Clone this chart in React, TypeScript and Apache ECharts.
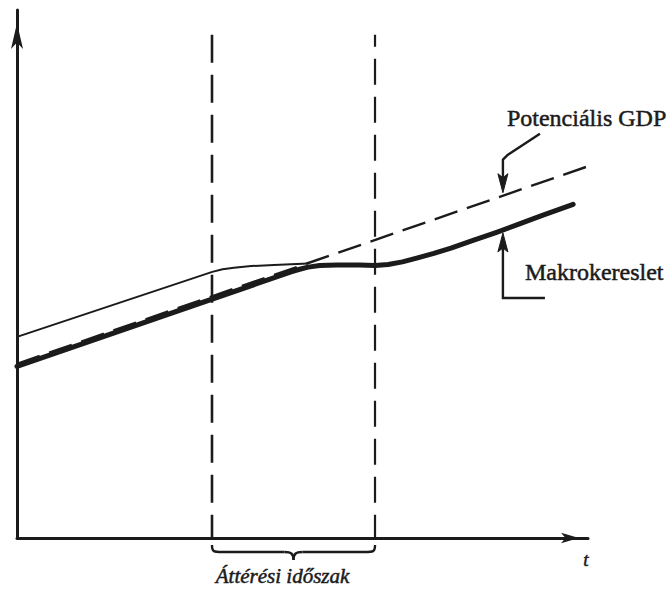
import React, { useEffect, useRef } from "react";
import * as echarts from "echarts";

// Conceptual diagram values (time 0..100, level 0..100)
const potentialGDP: [number, number][] = [
  [0, 33.0],
  [101.6, 71.0],
];
const demandThick: [number, number][] = [
  [0, 32.5], [48, 50.4], [49.5, 50.9], [51, 51.3], [53, 51.6], [56, 51.7],
  [60, 51.7], [62.7, 51.6], [65, 51.8], [67.5, 52.3], [70, 53.0], [73, 53.9],
  [76, 54.9], [80, 56.4], [84, 57.9], [88, 59.5], [92, 61.1], [97.4, 63.2],
];
const demandThin: [number, number][] = [
  [0, 38.1], [34.2, 50.4], [36, 50.9], [38, 51.2], [41, 51.5], [45, 51.7], [51, 52.0],
];
const transitionStart = 34.15;
const transitionEnd = 62.7;
const guideTop = 95.3;
const annotationX = 85.1;

const labelPotential = "Potenciális GDP";
const labelDemand = "Makrokereslet";
const labelPeriod = "Áttérési időszak";
const labelTime = "t";

const INK = "#1b1b1b";
const SERIF = "'Liberation Serif', 'DejaVu Serif', serif";

function interp(data: [number, number][], x: number): number {
  for (let i = 0; i < data.length - 1; i++) {
    const [x0, y0] = data[i];
    const [x1, y1] = data[i + 1];
    if (x >= x0 && x <= x1) return y0 + ((y1 - y0) * (x - x0)) / (x1 - x0);
  }
  return data[data.length - 1][1];
}

export default function App() {
  const ref = useRef<HTMLDivElement>(null);
  useEffect(() => {
    if (!ref.current) return;
    const chart = echarts.init(ref.current, undefined, { renderer: "svg" });
    const hidden = {
      axisTick: { show: false },
      axisLabel: { show: false },
      splitLine: { show: false },
    };
    chart.setOption({
      animation: false,
      backgroundColor: "#ffffff",
      grid: { left: 17, top: 10, right: 83, bottom: 51, containLabel: false },
      xAxis: {
        type: "value",
        min: 0,
        max: 100,
        ...hidden,
        axisLine: {
          show: true,
          symbol: ["none", "arrow"],
          symbolSize: [8, 18],
          symbolOffset: [0, -9],
          lineStyle: { color: INK, width: 3 },
        },
      },
      yAxis: {
        type: "value",
        min: 0,
        max: 100,
        ...hidden,
        axisLine: {
          show: true,
          symbol: ["none", "arrow"],
          symbolSize: [9, 26],
          symbolOffset: [0, -13],
          lineStyle: { color: INK, width: 3 },
        },
      },
      series: [
        {
          type: "line",
          data: [[transitionStart, guideTop], [transitionStart, 0]],
          symbol: "none",
          lineStyle: { color: INK, width: 2.6, type: [28, 12] },
          z: 1,
        },
        {
          type: "line",
          data: [[transitionEnd, guideTop], [transitionEnd, 0]],
          symbol: "none",
          lineStyle: { color: INK, width: 2.2, type: [26, 12], dashOffset: 14 },
          z: 1,
        },
        {
          type: "line",
          data: demandThin,
          symbol: "none",
          lineStyle: { color: INK, width: 2, join: "round" },
          z: 2,
        },
        {
          type: "line",
          data: demandThick,
          symbol: "none",
          lineStyle: { color: INK, width: 5, cap: "round", join: "round" },
          z: 3,
        },
        {
          type: "line",
          data: potentialGDP,
          symbol: "none",
          clip: false,
          lineStyle: { color: INK, width: 2.4, type: [24, 10] },
          z: 4,
        },
      ],
    });

    const px = (x: number, y: number) => chart.convertToPixel({ gridIndex: 0 }, [x, y]) as number[];
    const [pTx, pTyRaw] = px(annotationX, interp(potentialGDP, annotationX));
    const [dTx, dTyRaw] = px(annotationX, interp(demandThick, annotationX));
    const pTy = pTyRaw - 3;
    const dTy = dTyRaw + 3;
    const [xl, axisY] = px(transitionStart, 0);
    const [xr] = px(transitionEnd, 0);
    const [xEnd] = px(100, 0);
    const xm = (xl + xr) / 2;
    const yA = axisY + 7;
    const yB = axisY + 14;
    const yC = axisY + 22;
    const stroke = { stroke: INK, lineWidth: 2.4, fill: "none" };
    const textInk = { fill: INK, stroke: INK, lineWidth: 0.5 };

    chart.setOption({
      graphic: [
        // Potential GDP leader
        {
          type: "polyline",
          shape: { points: [[pTx + 37, pTy - 59], [pTx + 5, pTy - 38], [pTx, pTy - 33], [pTx, pTy - 15]] },
          style: { ...stroke, lineJoin: "round" },
        },
        {
          type: "polygon",
          shape: { points: [[pTx - 5, pTy - 19], [pTx, pTy - 15], [pTx + 5, pTy - 19], [pTx, pTy]] },
          style: { fill: INK, stroke: INK, lineWidth: 1 },
        },
        {
          type: "text",
          x: pTx + 4,
          y: pTy - 75,
          style: { text: labelPotential, ...textInk, font: `24px ${SERIF}`, align: "left", verticalAlign: "middle" },
        },
        // Demand leader
        {
          type: "polyline",
          shape: { points: [[dTx, dTy + 15], [dTx, dTy + 65], [dTx + 42, dTy + 65]] },
          style: { ...stroke, lineJoin: "miter" },
        },
        {
          type: "polygon",
          shape: { points: [[dTx - 5, dTy + 19], [dTx, dTy + 15], [dTx + 5, dTy + 19], [dTx, dTy]] },
          style: { fill: INK, stroke: INK, lineWidth: 1 },
        },
        {
          type: "text",
          x: dTx + 22,
          y: dTy + 39,
          style: { text: labelDemand, ...textInk, font: `24px ${SERIF}`, align: "left", verticalAlign: "middle" },
        },
        // Brace
        {
          type: "bezierCurve",
          shape: { x1: xl, y1: yA, cpx1: xl, cpy1: yB, cpx2: xl + 2, cpy2: yB, x2: xl + 10, y2: yB },
          style: stroke,
        },
        { type: "line", shape: { x1: xl + 10, y1: yB, x2: xm - 9, y2: yB }, style: stroke },
        {
          type: "bezierCurve",
          shape: { x1: xm - 9, y1: yB, cpx1: xm - 2, cpy1: yB, cpx2: xm, cpy2: yB + 2, x2: xm, y2: yC },
          style: stroke,
        },
        {
          type: "bezierCurve",
          shape: { x1: xm, y1: yC, cpx1: xm, cpy1: yB + 2, cpx2: xm + 2, cpy2: yB, x2: xm + 9, y2: yB },
          style: stroke,
        },
        { type: "line", shape: { x1: xm + 9, y1: yB, x2: xr - 10, y2: yB }, style: stroke },
        {
          type: "bezierCurve",
          shape: { x1: xr - 10, y1: yB, cpx1: xr - 2, cpy1: yB, cpx2: xr, cpy2: yB, x2: xr, y2: yA },
          style: stroke,
        },
        {
          type: "text",
          x: xm - 11,
          y: axisY + 38,
          style: { text: labelPeriod, ...textInk, font: `italic 21px ${SERIF}`, align: "center", verticalAlign: "middle" },
        },
        {
          type: "text",
          x: xEnd - 2,
          y: axisY + 21,
          style: { text: labelTime, ...textInk, font: `italic 19px ${SERIF}`, align: "center", verticalAlign: "middle" },
        },
      ],
    });

    return () => chart.dispose();
  }, []);
  return (
    <div
      ref={ref}
      style={{ position: "fixed", left: 0, top: 0, width: 671, height: 589, background: "#fff" }}
    />
  );
}
